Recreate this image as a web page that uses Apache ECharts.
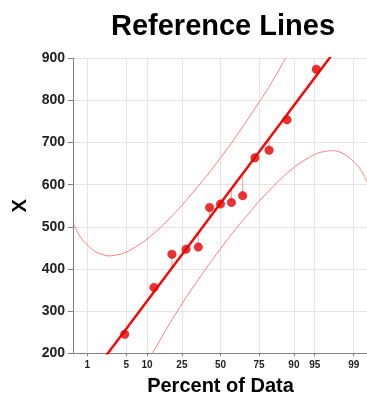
<!DOCTYPE html>
<html>
<head>
<meta charset="utf-8">
<script src="https://cdn.jsdelivr.net/npm/echarts@6/dist/echarts.min.js"></script>
<style>
  html, body { margin: 0; padding: 0; background: #ffffff; }
  #chart { width: 367px; height: 396px; }
</style>
</head>
<body>
<div id="chart"></div>
<script>
// Percent positions of the probability-axis ticks
const tickPercents = [1, 5, 10, 25, 50, 75, 90, 95, 99];

// Observations with their plotting positions (percent of data)
const pointPercents = [4.72, 12.26, 19.81, 27.36, 34.91, 42.45, 50, 57.55, 65.09, 72.64, 80.19, 87.74, 95.28];
const pointValues = [245, 356, 435, 447, 452, 546, 554, 558, 574, 664, 682, 754, 874];

// Fitted normal reference line: value = fitMean + fitSlope * z
const fitMean = 556;
const fitSlope = 181;

// Reference band curves sampled along the percent axis
const bandPercents = [0.5, 0.7, 1, 1.5, 2, 2.5, 3, 4, 5, 7.5, 10, 15, 20, 25, 30, 40, 50,
                      60, 70, 75, 80, 85, 90, 92.5, 95, 96, 97, 97.5, 98, 98.5, 99, 99.3, 99.5];
const upperBand = [510, 478, 457, 440, 434, 431, 432, 435, 440, 456, 471, 500, 527, 551, 575, 619, 664,
                   711, 765, 796, 831, 876, 935, 977, 1036, 1069, 1113, 1141, 1177, 1226, 1299, 1368, 1443];
const lowerBand = [-330, -256, -187, -114, -65, -29, -1, 43, 76, 135, 177, 236, 281, 317, 348, 401, 448,
                   493, 537, 561, 585, 612, 641, 656, 672, 677, 680, 681, 679, 672, 655, 634, 602];

// Axis range in percent
const percentMin = 0.5;
const percentMax = 99.5;

// Inverse standard normal CDF (Acklam's rational approximation)
function probit(p) {
  const a = [-3.969683028665376e+01, 2.209460984245205e+02, -2.759285104469687e+02,
             1.383577518672690e+02, -3.066479806614716e+01, 2.506628277459239e+00];
  const b = [-5.447609879822406e+01, 1.615858368580409e+02, -1.556989798598866e+02,
             6.680131188771972e+01, -1.328068155288572e+01];
  const c = [-7.784894002430293e-03, -3.223964580411365e-01, -2.400758277161838e+00,
             -2.549671348291478e+00, 4.374664141464968e+00, 2.938163982698783e+00];
  const d = [7.784695709041462e-03, 3.224671290700398e-01, 2.445134137142996e+00,
             3.754408661907416e+00];
  const pLow = 0.02425;
  let q, r;
  if (p < pLow) {
    q = Math.sqrt(-2 * Math.log(p));
    return (((((c[0]*q+c[1])*q+c[2])*q+c[3])*q+c[4])*q+c[5]) /
           ((((d[0]*q+d[1])*q+d[2])*q+d[3])*q+1);
  }
  if (p <= 1 - pLow) {
    q = p - 0.5; r = q * q;
    return (((((a[0]*r+a[1])*r+a[2])*r+a[3])*r+a[4])*r+a[5])*q /
           (((((b[0]*r+b[1])*r+b[2])*r+b[3])*r+b[4])*r+1);
  }
  q = Math.sqrt(-2 * Math.log(1 - p));
  return -(((((c[0]*q+c[1])*q+c[2])*q+c[3])*q+c[4])*q+c[5]) /
          ((((d[0]*q+d[1])*q+d[2])*q+d[3])*q+1);
}
const toZ = pct => probit(pct / 100);
const fitAt = z => fitMean + fitSlope * z;

const zMin = toZ(percentMin);
const zMax = toZ(percentMax);
const tickZ = tickPercents.map(toZ);

function tickLabel(v) {
  let best = 0;
  tickZ.forEach((z, i) => { if (Math.abs(z - v) < Math.abs(tickZ[best] - v)) best = i; });
  return String(tickPercents[best]);
}

const points = pointPercents.map((pct, i) => [toZ(pct), pointValues[i]]);
const residuals = points.map(([z, v]) => [z, v, fitAt(z)]);
const upperData = bandPercents.map((pct, i) => [toZ(pct), upperBand[i]]);
const lowerData = bandPercents.map((pct, i) => [toZ(pct), lowerBand[i]]);
const fitData = [[zMin, fitAt(zMin)], [zMax, fitAt(zMax)]];

const FONT = '"Liberation Sans", Arial, Helvetica, sans-serif';
const AXIS_GREY = '#808080';
const GRID_GREY = '#e4e4e4';

const chart = echarts.init(document.getElementById('chart'), null, { renderer: 'canvas' });
chart.setOption({
  animation: false,
  backgroundColor: '#ffffff',
  title: {
    text: 'Reference Lines',
    left: 106,
    top: 7,
    textStyle: { fontFamily: FONT, fontSize: 29, fontWeight: 'bold', color: '#000000' }
  },
  grid: {
    left: 73, right: -1, top: 58.3, bottom: 42.7,
    containLabel: false,
    outerBoundsMode: 'none'
  },
  xAxis: {
    type: 'value',
    min: zMin,
    max: zMax,
    name: 'Percent of Data',
    nameLocation: 'middle',
    nameGap: 23,
    nameTextStyle: { fontFamily: FONT, fontSize: 20, fontWeight: 'bold', color: '#000000' },
    axisLine: { show: true, onZero: false, lineStyle: { color: AXIS_GREY, width: 1 } },
    axisTick: { show: true, length: 3, customValues: tickZ, lineStyle: { color: AXIS_GREY } },
    axisLabel: {
      customValues: tickZ,
      formatter: tickLabel,
      fontFamily: FONT, fontSize: 10, fontWeight: 'bold', color: '#222222', margin: 7
    },
    splitLine: { show: true, lineStyle: { color: GRID_GREY, width: 1 } }
  },
  yAxis: {
    type: 'value',
    min: 200,
    max: 900,
    interval: 100,
    name: 'X',
    nameLocation: 'middle',
    nameGap: 42,
    nameTextStyle: { fontFamily: FONT, fontSize: 20, fontWeight: 'bold', color: '#000000' },
    axisLine: { show: true, onZero: false, lineStyle: { color: AXIS_GREY, width: 1 } },
    axisTick: { show: true, length: 5, lineStyle: { color: AXIS_GREY } },
    axisLabel: { fontFamily: FONT, fontSize: 14, fontWeight: 'bold', color: '#222222', margin: 8 },
    splitLine: { show: true, lineStyle: { color: GRID_GREY, width: 1 } }
  },
  series: [
    {
      name: 'upper',
      type: 'line',
      data: upperData,
      smooth: 0.3,
      showSymbol: false,
      lineStyle: { color: '#ff7f7f', width: 1 },
      clip: true,
      z: 2
    },
    {
      name: 'lower',
      type: 'line',
      data: lowerData,
      smooth: 0.3,
      showSymbol: false,
      lineStyle: { color: '#ff7f7f', width: 1 },
      clip: true,
      z: 2
    },
    {
      name: 'residuals',
      type: 'custom',
      data: residuals,
      clip: true,
      z: 3,
      renderItem(params, api) {
        const a = api.coord([api.value(0), api.value(1)]);
        const b = api.coord([api.value(0), api.value(2)]);
        return {
          type: 'line',
          shape: { x1: a[0], y1: a[1], x2: b[0], y2: b[1] },
          style: { stroke: '#ff9a9a', lineWidth: 1 }
        };
      }
    },
    {
      name: 'fit',
      type: 'line',
      data: fitData,
      showSymbol: false,
      lineStyle: { color: '#ff0000', width: 2.4 },
      clip: true,
      z: 4
    },
    {
      name: 'data',
      type: 'scatter',
      data: points,
      symbol: 'circle',
      symbolSize: 8.5,
      itemStyle: { color: '#e60000', borderColor: '#cc0000', borderWidth: 0.5 },
      z: 5
    }
  ]
});
</script>
</body>
</html>
